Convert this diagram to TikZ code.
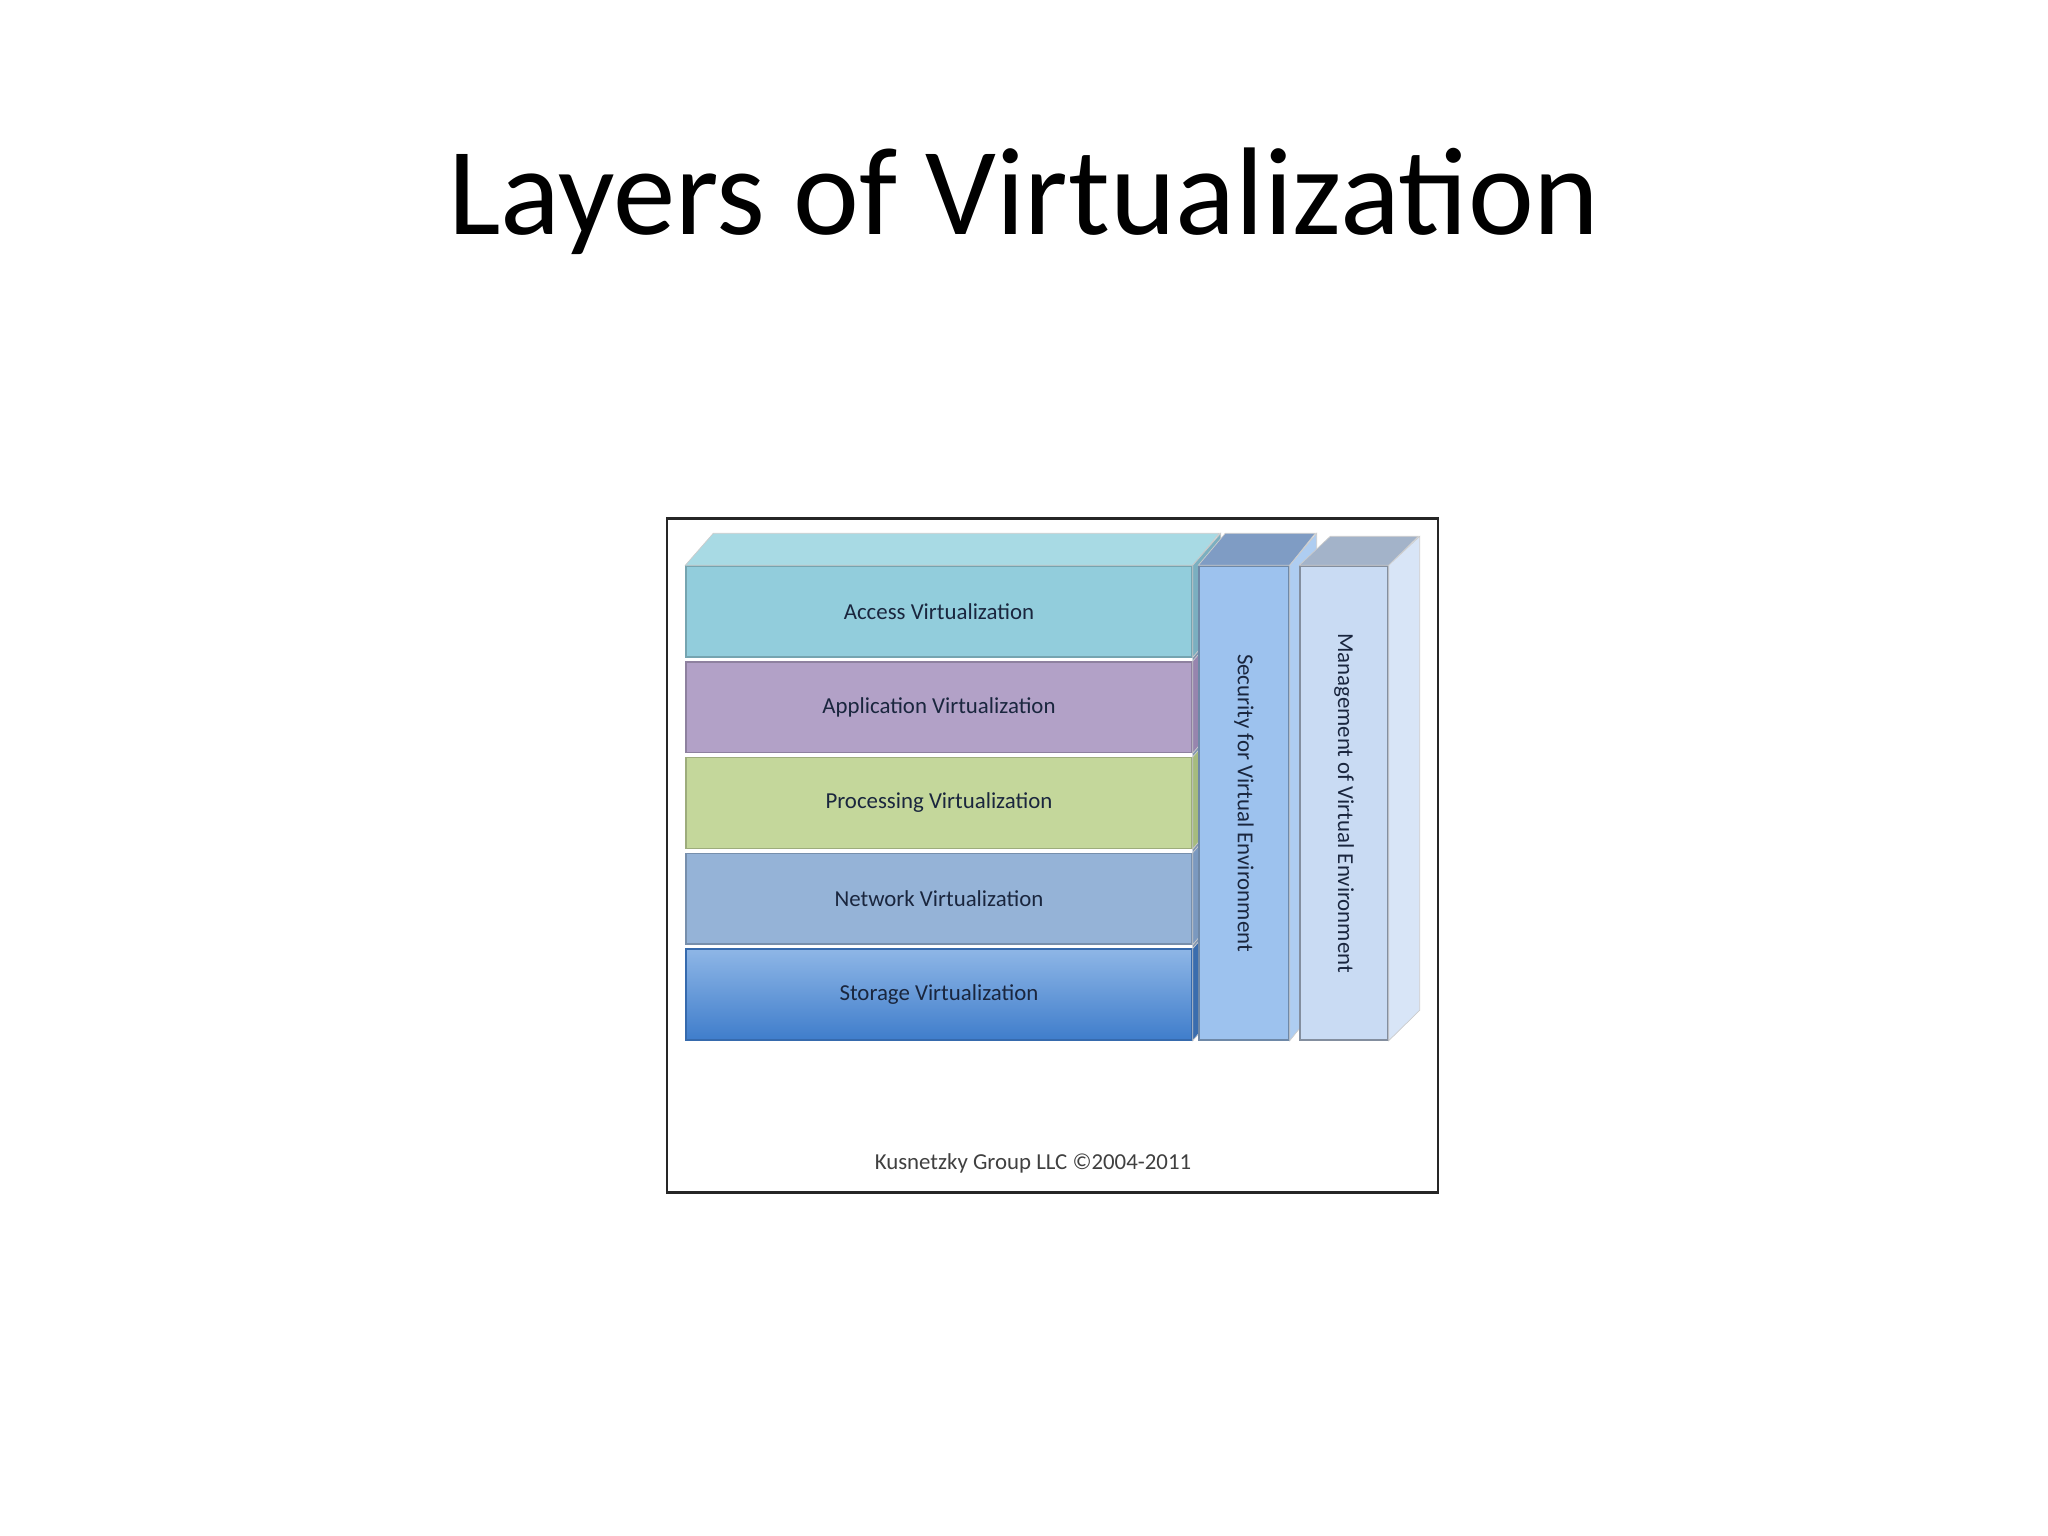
\documentclass[tikz,border=0pt]{standalone}
\usepackage{fontspec}
\setmainfont{Carlito}

\definecolor{accessc}{HTML}{92CDDC}
\definecolor{accesstop}{HTML}{A8DAE4}
\definecolor{accessside}{HTML}{7BAFC0}
\definecolor{appc}{HTML}{B2A1C7}
\definecolor{appside}{HTML}{9785AE}
\definecolor{procc}{HTML}{C4D79B}
\definecolor{procside}{HTML}{A6BB7E}
\definecolor{netc}{HTML}{95B3D7}
\definecolor{netside}{HTML}{7B99BF}
\definecolor{stortop}{HTML}{8EB6E6}
\definecolor{storbot}{HTML}{3F7DCB}
\definecolor{storside}{HTML}{3A6DAE}
\definecolor{stackback}{HTML}{7F95B0}
\definecolor{secc}{HTML}{9DC2EE}
\definecolor{sectop}{HTML}{7F9CC4}
\definecolor{secside}{HTML}{AECDF1}
\definecolor{mgmtc}{HTML}{C9DBF3}
\definecolor{mgmttop}{HTML}{A3B3C9}
\definecolor{mgmtside}{HTML}{D8E5F7}
\definecolor{labeltext}{HTML}{1A263E}

\begin{document}
\begin{tikzpicture}
        \tikzstyle{layer}=[rectangle,minimum width=5.06cm,minimum height=0.908cm,inner sep=0pt,font=\fontsize{6.5}{8}\selectfont,text=labeltext]
        \tikzstyle{column}=[rectangle,minimum height=4.74cm,inner sep=0pt]
        \tikzstyle{collabel}=[rotate=-90,inner sep=0pt,font=\fontsize{6.5}{8}\selectfont,text=labeltext]
        \tikzstyle{face}=[draw=black!20,line width=0.2pt]

        \useasboundingbox (0,0) rectangle (20.48,-15.36);

        \node [font=\fontsize{35.5}{40}\selectfont,anchor=base] (title) at (10.24,-2.35) {Layers of Virtualization};
        \node [draw=black!85,line width=0.8pt,minimum width=7.71cm,minimum height=6.74cm,inner sep=0pt] (figframe) at (10.525,-8.555) {};

        \begin{scope}
                 % left stack of layers
                 \node [layer,fill=accessc,draw=accessc!80!black] (access) at (9.39,-6.114) {Access Virtualization};
                 \node [layer,fill=appc,draw=appc!80!black] (application) at (9.39,-7.072) {Application Virtualization};
                 \node [layer,fill=procc,draw=procc!80!black] (processing) at (9.39,-8.030) {Processing Virtualization};
                 \node [layer,fill=netc,draw=netc!80!black] (network) at (9.39,-8.988) {Network Virtualization};
                 \node [layer,top color=stortop,bottom color=storbot,draw=storbot!85!black] (storage) at (9.39,-9.946) {Storage Virtualization};

                 \fill [accesstop,face] (access.north west) -- ++(0.28,0.32) -- ++(5.06,0) -- (access.north east) -- cycle;
                 \fill [stackback] (access.north east) -- ++(0.28,0.32) -- ++(0,-4.74) -- (storage.south east) -- cycle;
                 \fill [accessside,face] (access.north east) -- ++(0.28,0.32) -- ++(0,-0.908) -- (access.south east) -- cycle;
                 \fill [appside,face] (application.north east) -- ++(0.28,0.32) -- ++(0,-0.908) -- (application.south east) -- cycle;
                 \fill [procside,face] (processing.north east) -- ++(0.28,0.32) -- ++(0,-0.908) -- (processing.south east) -- cycle;
                 \fill [netside,face] (network.north east) -- ++(0.28,0.32) -- ++(0,-0.908) -- (network.south east) -- cycle;
                 \fill [storside,face] (storage.north east) -- ++(0.28,0.32) -- ++(0,-0.908) -- (storage.south east) -- cycle;

                 % security column
                 \node [column,minimum width=0.90cm,fill=secc,draw=secc!70!black] (security) at (12.44,-8.03) {};
                 \fill [sectop,face] (security.north west) -- ++(0.27,0.32) -- ++(0.90,0) -- (security.north east) -- cycle;
                 \fill [secside,face] (security.north east) -- ++(0.27,0.32) -- ++(0,-4.74) -- (security.south east) -- cycle;
                 \node [collabel] (securitytext) at (security.center) {Security for Virtual Environment};

                 % management column
                 \node [column,minimum width=0.88cm,fill=mgmtc,draw=mgmtc!65!black] (management) at (13.44,-8.03) {};
                 \fill [mgmttop,face] (management.north west) -- ++(0.31,0.29) -- ++(0.88,0) -- (management.north east) -- cycle;
                 \fill [mgmtside,face] (management.north east) -- ++(0.31,0.29) -- ++(0,-4.74) -- (management.south east) -- cycle;
                 \node [collabel] (managementtext) at (management.center) {Management of Virtual Environment};
        \end{scope}

        \node [font=\fontsize{6.5}{8}\selectfont,text=black!75,anchor=base] (credit) at (10.33,-11.69) {Kusnetzky Group LLC ©2004-2011};
\end{tikzpicture}
\end{document}
